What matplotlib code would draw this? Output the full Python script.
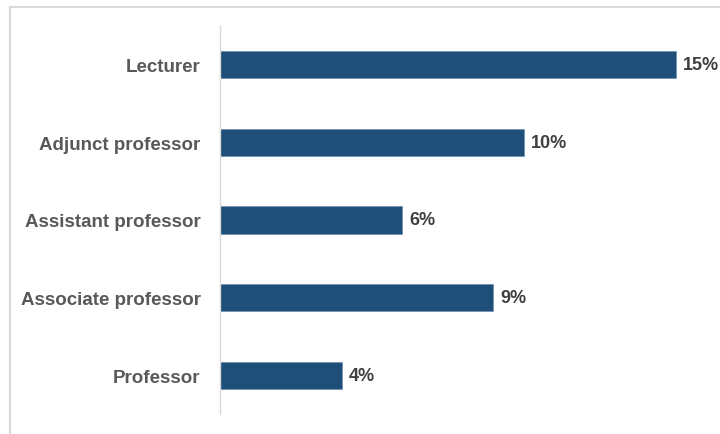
import matplotlib.pyplot as plt
from matplotlib.lines import Line2D

# Anteile nach Stellenkategorie
categories = ['Lecturer', 'Adjunct professor', 'Assistant professor',
              'Associate professor', 'Professor']
values = [15, 10, 6, 9, 4]
value_labels = ['15%', '10%', '6%', '9%', '4%']

plt.rcParams['font.family'] = ['Liberation Sans', 'DejaVu Sans']

fig = plt.figure(figsize=(7.2, 4.35), dpi=100)
ax = fig.add_axes([0.3056, 0.046, 0.675, 0.892])

pos = list(range(len(categories)))
ax.barh(pos, values, height=0.35, color='#1F4E79', edgecolor='#6f8fb0', linewidth=0.5)

for p, v, lab in zip(pos, values, value_labels):
    ax.annotate(lab, (v, p), xytext=(5, 0), textcoords='offset points',
                va='center', ha='left', fontsize=13, fontweight='bold', color='#404040')

ax.set_yticks(pos)
ax.set_yticklabels(categories, fontsize=13.5, fontweight='bold', color='#595959')
ax.set_ylim(len(categories) - 0.5, -0.5)
ax.set_xlim(0, 16)
ax.set_xticks([])
ax.tick_params(axis='y', length=0, pad=14)

for s in ['top', 'right', 'bottom']:
    ax.spines[s].set_visible(False)
ax.spines['left'].set_color('#d9d9d9')
ax.spines['left'].set_linewidth(1)

# Rahmen links und oben
fig.add_artist(Line2D([10 / 720, 10 / 720], [0, 1 - 8 / 435], color='#d9d9d9', lw=1.5))
fig.add_artist(Line2D([10 / 720, 1], [1 - 8 / 435, 1 - 8 / 435], color='#d9d9d9', lw=1.5))

fig.savefig('out.png', dpi=100)
